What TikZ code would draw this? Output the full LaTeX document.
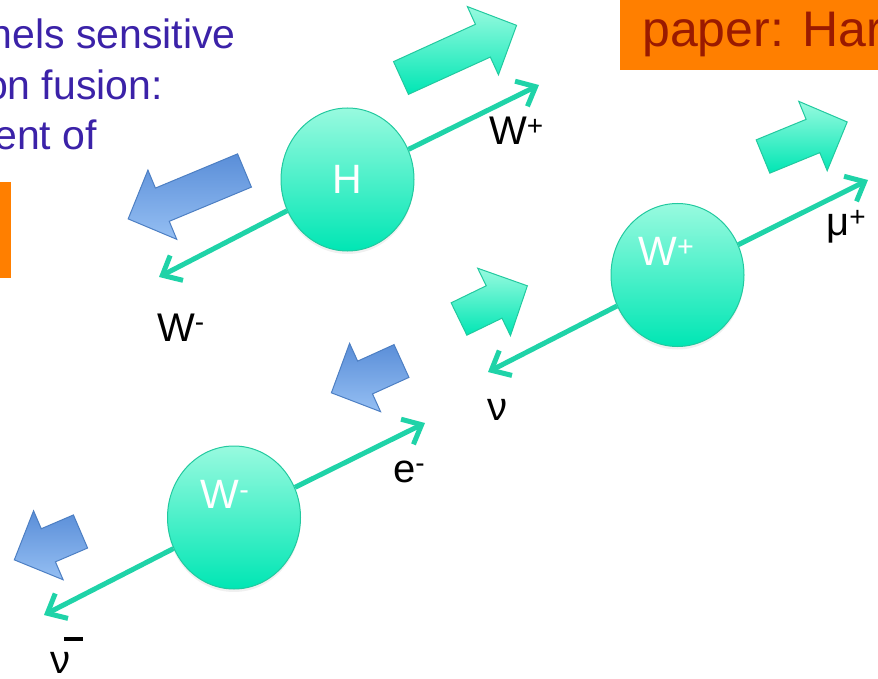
\documentclass[tikz,border=0pt]{standalone}
\usepackage{fontspec}
\setmainfont{Liberation Sans}
\usetikzlibrary{arrows.meta, shapes.geometric, shadows}
\definecolor{txtBlue}{HTML}{3B22A8}
\definecolor{paperRed}{HTML}{9A1A00}
\definecolor{boxOrange}{HTML}{FF7F00}
\definecolor{mint}{HTML}{1FD3A8}
\definecolor{mintLt}{HTML}{98FADF}
\definecolor{mintDk}{HTML}{00E6B4}
\definecolor{mintEdge}{HTML}{22C99F}
\definecolor{blueDk}{HTML}{5A8ED8}
\definecolor{blueLt}{HTML}{95BFF3}
\definecolor{blueEdge}{HTML}{4D7FC3}

% block arrow: style, tail centre, angle, length
\newcommand{\blockarrow}[4]{%
  \path[#1, shift={(#2)}, rotate=#3]
    (0,-18) -- (#4-37,-18) -- (#4-37,-37.5) -- (#4,0)
    -- (#4-37,37.5) -- (#4-37,18) -- (0,18) -- cycle;}

\begin{document}
\begin{tikzpicture}[
    x=1pt, y=-1pt,
    >={Straight Barb[length=16pt, width=28pt]},
    particle/.style={
        ellipse, draw=mintEdge, line width=1pt, top color=mintLt, bottom color=mintDk,
        minimum width=133pt, minimum height=143pt, inner sep=0pt,
        font=\fontsize{41}{48}\selectfont, text=white,
        drop shadow={opacity=0.12, shadow xshift=0pt, shadow yshift=-3pt}
    },
    decay/.style={draw=mint, line width=5pt, ->},
    lbl/.style={anchor=base west, inner sep=0pt, font=\fontsize{40}{48}\selectfont},
    slide/.style={anchor=base east, inner sep=0pt, font=\fontsize{41}{50}\selectfont, text=txtBlue},
    mintarrow/.style={draw=mintEdge, line width=1pt, top color=mintLt, bottom color=mintDk},
    bluearrow/.style={draw=blueEdge, line width=1pt, top color=blueDk, bottom color=blueLt},
]
\useasboundingbox (0,0) rectangle (878,679);

% ============================================
% Slide text
% ============================================
\fill[boxOrange] (620,0) rectangle (890,70);
\node[anchor=base west, inner sep=0pt, font=\fontsize{50}{54}\selectfont, text=paperRed] (paper) at (642,47) {paper: Har};
\fill[boxOrange] (-5,182) rectangle (11,278);
\node[slide] (line1) at (236,49) {nels sensitive};
\node[slide] (line2) at (163,100) {on fusion:};
\node[slide] (line3) at (97,150) {ent of};

% ============================================
% Particles
% ============================================
\node[particle] (H) at (347.5,179.5) {H};
\node[particle, label={[font=\fontsize{41}{48}\selectfont, text=white, xshift=-11pt, yshift=24pt]center:W\textsuperscript{+}}] (wp) at (677.5,275) {};
\node[particle, label={[font=\fontsize{41}{48}\selectfont, text=white, xshift=-9pt, yshift=23pt]center:W\textsuperscript{-}}] (wm) at (234,517.5) {};

% ============================================
% Decay lines
% ============================================
\coordinate (wpTip) at (539,85);
\coordinate (wmTip) at (159,277);
\coordinate (muTip) at (868,180);
\coordinate (nuTip) at (488,372);
\coordinate (eTip) at (425,423);
\coordinate (nubarTip) at (44,615);

\draw[decay] (H) -- (wpTip);
\draw[decay] (H) -- (wmTip);
\draw[decay] (wp) -- (muTip);
\draw[decay] (wp) -- (nuTip);
\draw[decay] (wm) -- (eTip);
\draw[decay] (wm) -- (nubarTip);

\node[lbl] (wplbl) at (489,145) {W\textsuperscript{+}};
\node[lbl] (wmlbl) at (157,341) {W\textsuperscript{-}};
\node[lbl] (mulbl) at (826,236) {μ\textsuperscript{+}};
\node[lbl] (nulbl) at (487,420) {ν};
\node[lbl] (elbl) at (393,482) {e\textsuperscript{-}};
\node[lbl] (nubarlbl) at (50,673) {ν\kern-0.15em\rule[0.8em]{0.48em}{0.1em}};

% ============================================
% Momentum / spin arrows
% ============================================
\blockarrow{mintarrow}{401,78}{24.5}{127}
\blockarrow{bluearrow}{244.5,170.5}{202.6}{126}
\blockarrow{mintarrow}{763,156.5}{22.3}{91}
\blockarrow{mintarrow}{459,319}{25.9}{76}
\blockarrow{bluearrow}{401.5,361}{204.4}{77}
\blockarrow{bluearrow}{80.5,531.5}{203.2}{72}

\end{tikzpicture}
\end{document}
